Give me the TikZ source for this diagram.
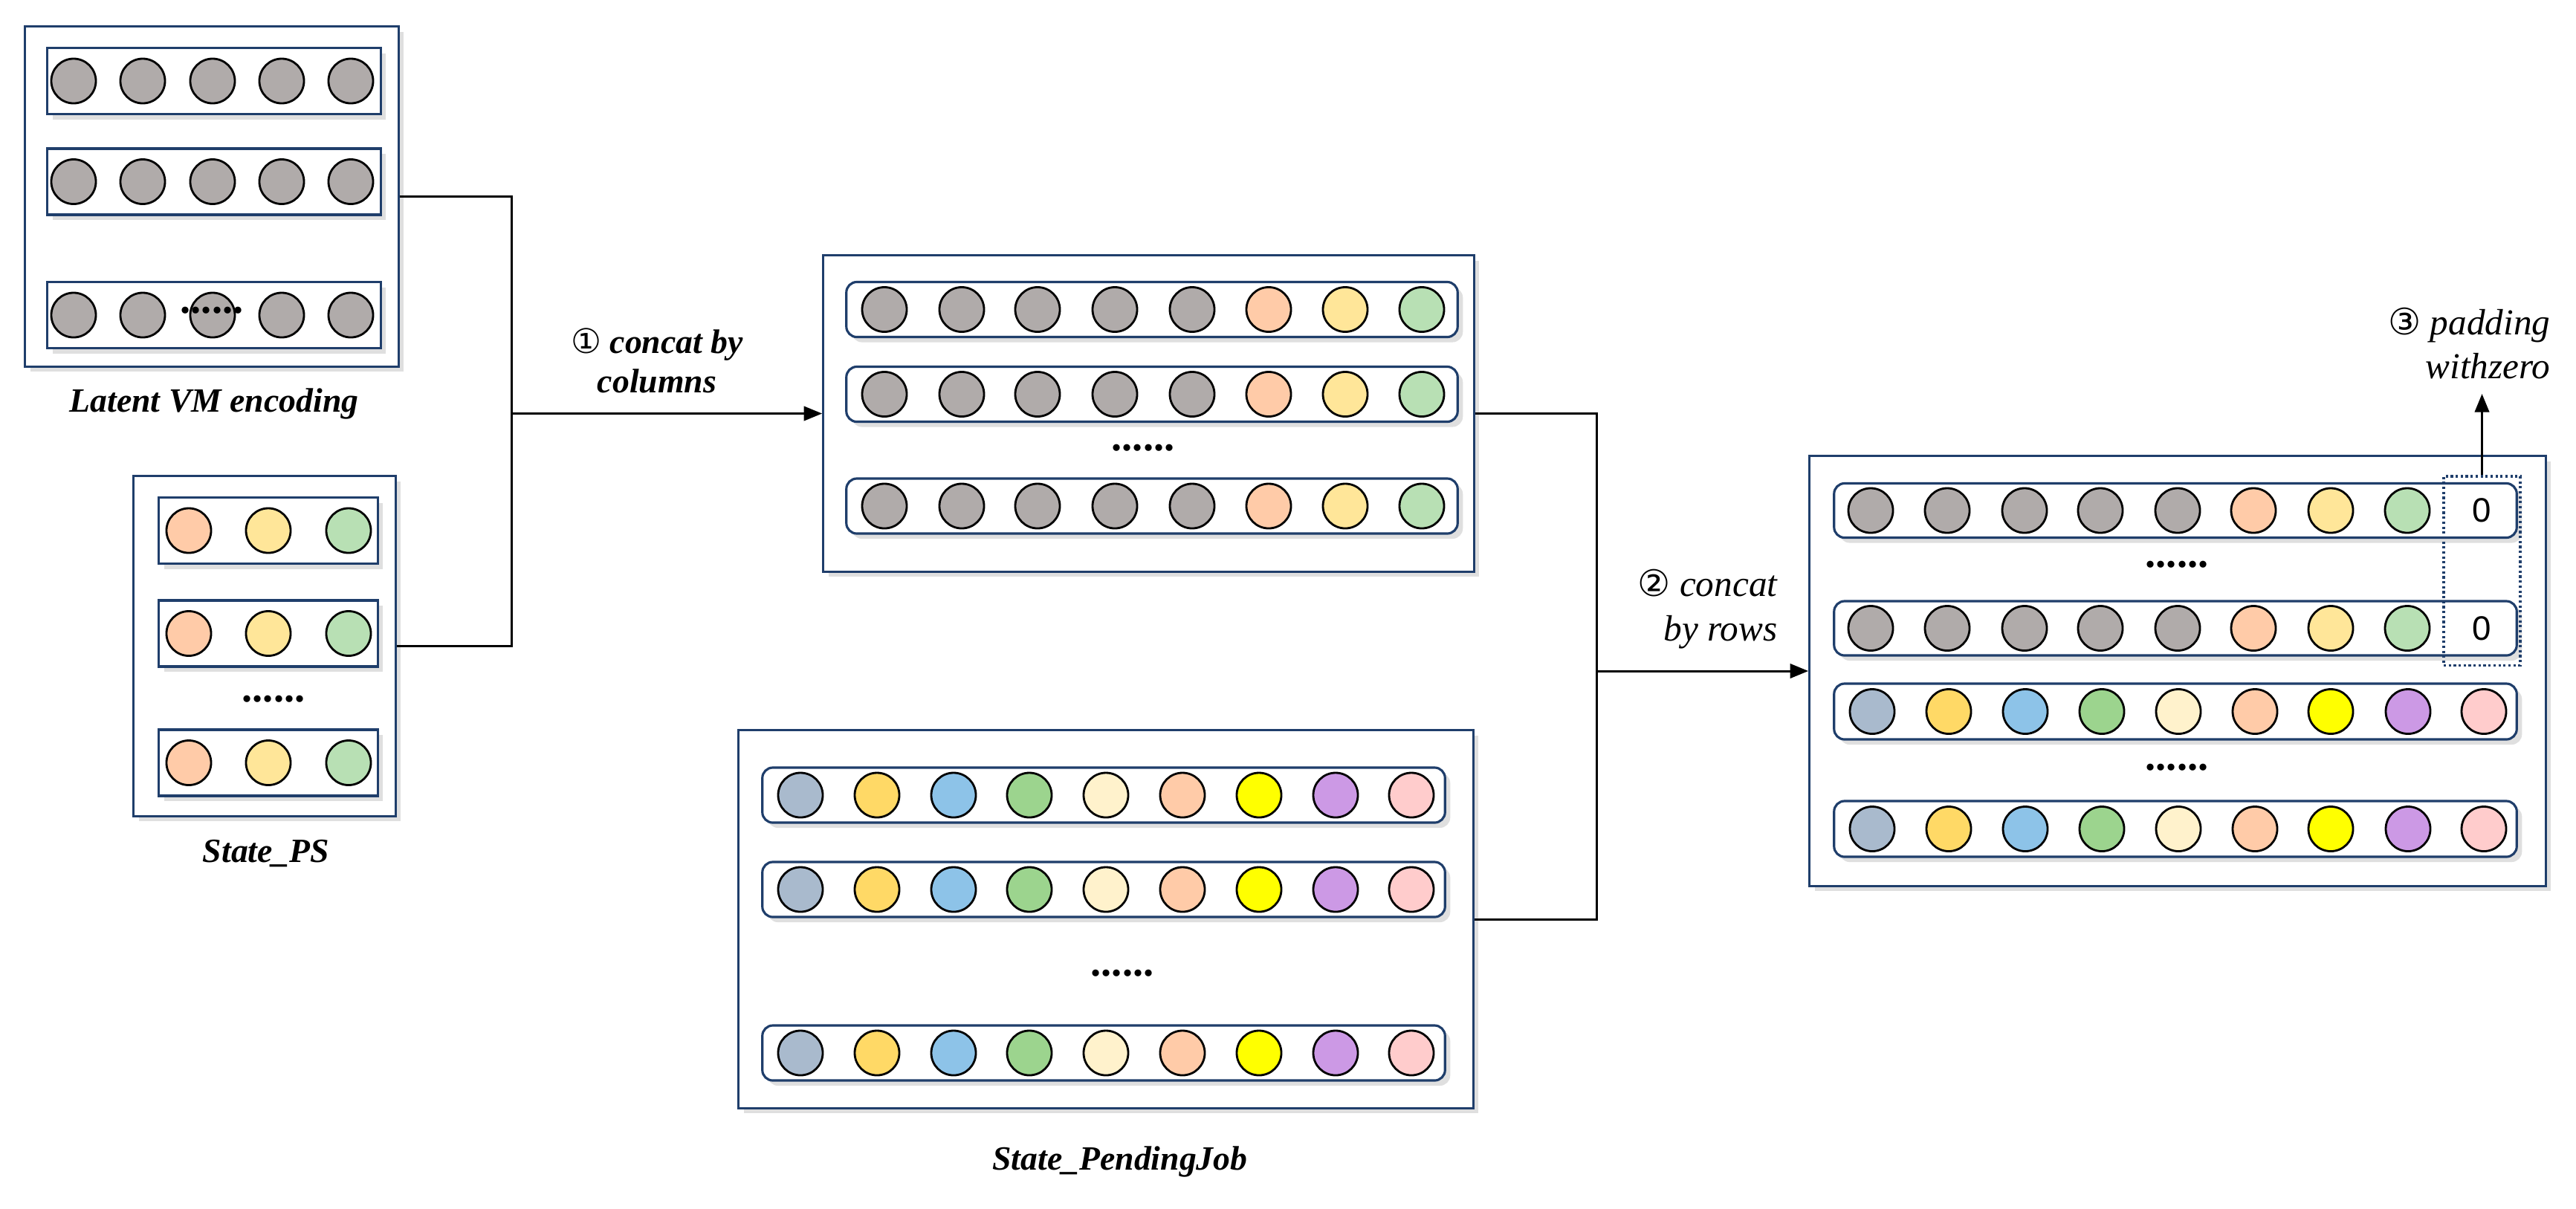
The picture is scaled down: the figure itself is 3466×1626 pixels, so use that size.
\documentclass[tikz,border=0pt]{standalone}
\usepackage{fontspec}
\setmainfont{Liberation Serif}
\newfontfamily\circfont{DejaVu Sans}
\newfontfamily\zerofont{Liberation Sans}
\usetikzlibrary{arrows.meta,shadows}
\definecolor{boxblue}{HTML}{1F3E6B}
\definecolor{cgray}{HTML}{B0ABAA}
\definecolor{corange}{HTML}{FFCBA8}
\definecolor{cyellow}{HTML}{FFE699}
\definecolor{cgreen}{HTML}{B8E0B4}
\definecolor{pslate}{HTML}{A9BACD}
\definecolor{pgold}{HTML}{FFD966}
\definecolor{pblue}{HTML}{8DC3E8}
\definecolor{pgreen}{HTML}{9CD48E}
\definecolor{pcream}{HTML}{FFF2CC}
\definecolor{porange}{HTML}{FFCBA8}
\definecolor{pyellow}{HTML}{FFFF00}
\definecolor{ppurple}{HTML}{CC99E5}
\definecolor{ppink}{HTML}{FFCCCC}
\begin{document}
\begin{tikzpicture}[x=0.01cm,y=-0.01cm,
  box/.style={draw=boxblue,line width=0.9pt,fill=white,rectangle,inner sep=0pt,
    drop shadow={shadow xshift=2pt,shadow yshift=-2pt,opacity=0.25}},
  sqrow/.style={draw=boxblue,line width=0.9pt,fill=white,rectangle,inner sep=0pt,
    drop shadow={shadow xshift=2pt,shadow yshift=-2pt,opacity=0.25}},
  rrow/.style={sqrow,rounded corners=4pt},
  cell/.style={circle,draw=black,line width=0.8pt,minimum size=0.6cm,inner sep=0pt},
  dots/.style={font=\fontsize{16}{16}\selectfont\bfseries,inner sep=0pt},
  lbl/.style={font=\fontsize{13}{15}\selectfont\bfseries\itshape,inner sep=0pt},
  conn/.style={line width=0.85pt,black},
  arr/.style={conn,-{Triangle[length=7pt,width=5.5pt]}}
]
\useasboundingbox (0,0) rectangle (3466,1626);
% boxes
\node[box,minimum width=5.02cm,minimum height=4.57cm] (b1) at (285,264.5) {};
\node[box,minimum width=3.52cm,minimum height=4.57cm] (b2) at (356,869.5) {};
\node[box,minimum width=8.75cm,minimum height=4.25cm] (b3) at (1545.5,556.5) {};
\node[box,minimum width=9.88cm,minimum height=5.08cm] (b4) at (1488,1237) {};
\node[box,minimum width=9.90cm,minimum height=5.78cm] (b5) at (2930,903) {};
% box 1 rows
\foreach \r/\y in {1/109,2/244.5,3/424}{
  \node[sqrow,minimum width=4.48cm,minimum height=0.89cm] (r1-\r) at (288,\y) {};
  \foreach \x [count=\i] in {99,192,286,379,472}
    \node[cell,fill=cgray] (c1-\r-\i) at (\x,\y) {};
}
\node[dots] (d1) at (285,418) {......};
% box 2 rows
\foreach \r/\y in {1/714,2/852.5,3/1026.5}{
  \node[sqrow,minimum width=2.94cm,minimum height=0.89cm] (r2-\r) at (361,\y) {};
  \foreach \x/\c [count=\i] in {254/corange,361/cyellow,469/cgreen}
    \node[cell,fill=\c] (c2-\r-\i) at (\x,\y) {};
}
\node[dots] (d2) at (368,941) {......};
% box 3 rows
\foreach \r/\y in {1/416.5,2/530.5,3/681}{
  \node[rrow,minimum width=8.22cm,minimum height=0.74cm] (r3-\r) at (1550,\y) {};
  \foreach \x/\c [count=\i] in {1190/cgray,1294/cgray,1396/cgray,1500/cgray,1604/cgray,1707/corange,1810/cyellow,1913/cgreen}
    \node[cell,fill=\c] (c3-\r-\i) at (\x,\y) {};
}
\node[dots] (d3) at (1538,603) {......};
% box 4 rows
\foreach \r/\y in {1/1070,2/1197,3/1417}{
  \node[rrow,minimum width=9.18cm,minimum height=0.74cm] (r4-\r) at (1485,\y) {};
  \foreach \x/\c [count=\i] in {1077/pslate,1180/pgold,1283/pblue,1385/pgreen,1488/pcream,1591/porange,1694/pyellow,1797/ppurple,1899/ppink}
    \node[cell,fill=\c] (c4-\r-\i) at (\x,\y) {};
}
\node[dots] (d4) at (1510,1310) {......};
% box 5 rows
\foreach \r/\y in {1/687,2/845.5}{
  \node[rrow,minimum width=9.18cm,minimum height=0.73cm] (r5-\r) at (2927,\y) {};
  \foreach \x/\c [count=\i] in {2517/cgray,2620/cgray,2724/cgray,2826/cgray,2930/cgray,3032/corange,3136/cyellow,3239/cgreen}
    \node[cell,fill=\c] (c5-\r-\i) at (\x,\y) {};
  \node[font=\zerofont\fontsize{13}{13}\selectfont,inner sep=0pt] (z-\r) at (3339,\y) {0};
}
\foreach \r/\y in {3/957.5,4/1115.5}{
  \node[rrow,minimum width=9.18cm,minimum height=0.75cm] (r5-\r) at (2927,\y) {};
  \foreach \x/\c [count=\i] in {2519/pslate,2622/pgold,2725/pblue,2828/pgreen,2931/pcream,3034/porange,3136/pyellow,3240/ppurple,3342/ppink}
    \node[cell,fill=\c] (c5-\r-\i) at (\x,\y) {};
}
\node[dots] (d5a) at (2929,760) {......};
\node[dots] (d5b) at (2929,1033) {......};
% padding rectangle
\node[draw=boxblue,densely dotted,line width=0.9pt,minimum width=1.03cm,minimum height=2.54cm,inner sep=0pt] (pad) at (3339.5,768) {};
\coordinate (padtop) at (3339.5,530);
\draw[arr] (pad.north) -- (padtop);
% labels
\node[lbl] (l1) at (288,543) {Latent VM encoding};
\node[lbl] (l2) at (358,1149) {State\_PS};
\node[lbl] (l4) at (1507,1563) {State\_PendingJob};
\node[lbl,align=center] (s1) at (884,485) {{\circfont\mdseries\upshape ①} concat by\\columns};
\node[font=\fontsize{14}{17}\selectfont\itshape,align=right,anchor=east,inner sep=0pt] (s2) at (2392,820) {{\circfont ②} concat\\by rows};
\node[font=\fontsize{14}{17}\selectfont\itshape,align=right,anchor=east,inner sep=0pt] (s3) at (3432,462) {{\circfont ③} padding\\withzero};
% connectors
\coordinate (j1) at (688,556.5);
\coordinate (j2) at (2148,903);
\draw[conn] (b1.east) -| (j1);
\draw[conn] (b2.east) -| (j1);
\draw[arr] (j1) -- (b3.west);
\draw[conn] (b3.east) -| (j2);
\draw[conn] (b4.east) -| (j2);
\draw[arr] (j2) -- (b5.west);
\end{tikzpicture}
\end{document}
